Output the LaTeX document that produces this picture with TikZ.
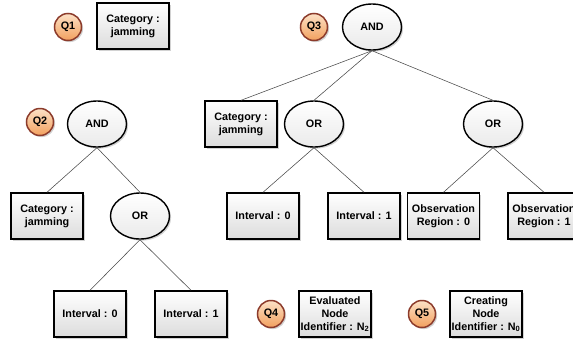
\documentclass[tikz,border=0pt]{standalone}
\usepackage{fontspec}
\setmainfont{Liberation Sans}
\usetikzlibrary{shapes.geometric,shadows}

\definecolor{tagedge}{HTML}{8C3B2B}
\definecolor{tagtop}{HTML}{FCE1C6}
\definecolor{tagbot}{HTML}{F2A05E}
\definecolor{boxbot}{HTML}{DCDCDC}
\definecolor{linkcol}{HTML}{4A4A4A}

\begin{document}
\begin{tikzpicture}[x=1pt,y=-1pt,
  every node/.style={font=\fontsize{10.8}{13}\selectfont\bfseries, align=center, inner sep=0pt},
  soft/.style={drop shadow={shadow xshift=1.6pt, shadow yshift=-1.6pt, opacity=0.35}},
  leaf/.style={draw=black, line width=1.4pt, minimum width=72pt, minimum height=46pt,
    top color=white, bottom color=boxbot, soft},
  gate/.style={ellipse, draw=black, line width=1.4pt, minimum width=59pt, minimum height=46pt,
    top color=white, bottom color=boxbot!60, soft},
  qtag/.style={circle, draw=tagedge, line width=1.5pt, minimum size=27pt,
    top color=tagtop, bottom color=tagbot, soft},
  link/.style={draw=linkcol, line width=0.55pt}
]
\clip (0,0) rectangle (573,346);
\fill[white] (0,0) rectangle (573,346);

% Q1: single condition
\node[qtag] (q1) at (68,27) {Q1};
\node[leaf] (c1) at (133,26) {Category :\\jamming};

% Q2: category AND (interval 0 OR interval 1)
\node[qtag] (q2) at (40,122) {Q2};
\node[gate] (and2) at (97,124) {AND};
\node[leaf] (c2) at (47,216) {Category :\\jamming};
\node[gate] (or2) at (140,216) {OR};
\node[leaf] (i20) at (90,314) {Interval : 0};
\node[leaf] (i21) at (191,314) {Interval : 1};
\draw[link] (and2.south) -- (c2.north);
\draw[link] (and2.south) -- (or2.north);
\draw[link] (or2.south) -- (i20.north);
\draw[link] (or2.south) -- (i21.north);

% Q3: category AND interval-OR AND region-OR
\node[qtag] (q3) at (314,27) {Q3};
\node[gate] (and3) at (372,27) {AND};
\node[leaf] (c3) at (241,124) {Category :\\jamming};
\node[gate] (or3a) at (314,124) {OR};
\node[gate] (or3b) at (493,124) {OR};
\node[leaf] (i30) at (263,216) {Interval : 0};
\node[leaf] (i31) at (364,216) {Interval : 1};
\node[leaf] (ob0) at (443.5,216) {Observation\\Region : 0};
\node[leaf] (ob1) at (544,216) {Observation\\Region : 1};
\draw[link] (and3.south) -- (c3.north);
\draw[link] (and3.south) -- (or3a.north);
\draw[link] (and3.south) -- (or3b.north);
\draw[link] (or3a.south) -- (i30.north);
\draw[link] (or3a.south) -- (i31.north);
\draw[link] (or3b.south) -- (ob0.north);
\draw[link] (or3b.south) -- (ob1.north);

% Q4 and Q5: node identifiers
\node[qtag] (q4) at (271,314) {Q4};
\node[leaf] (ev) at (335,314) {Evaluated\\Node\\Identifier : N\textsubscript{2}};
\node[qtag] (q5) at (422,314) {Q5};
\node[leaf] (cr) at (486,314) {Creating\\Node\\Identifier : N\textsubscript{0}};
\end{tikzpicture}
\end{document}
